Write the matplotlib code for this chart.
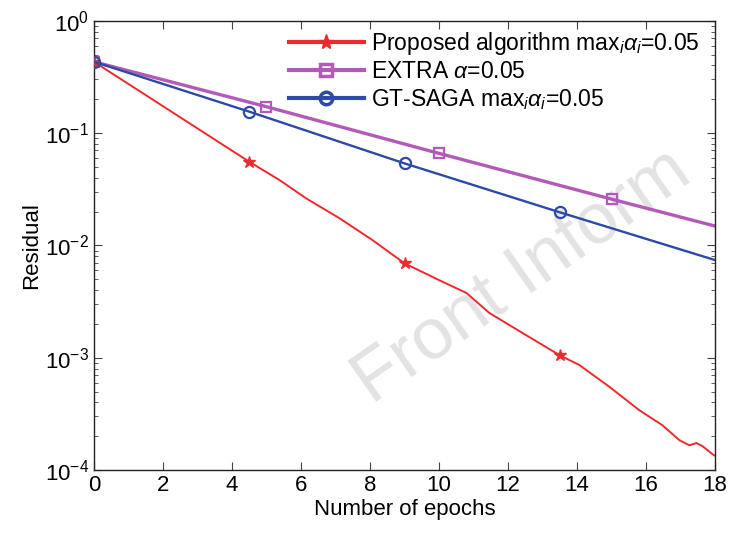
import numpy as np
import matplotlib
matplotlib.use("Agg")
import matplotlib.pyplot as plt
from matplotlib.ticker import LogLocator, NullFormatter
from matplotlib.lines import Line2D

plt.rcParams['font.family'] = ['Liberation Sans', 'DejaVu Sans']
plt.rcParams['mathtext.fontset'] = 'custom'
plt.rcParams['mathtext.rm'] = 'Liberation Sans'
plt.rcParams['mathtext.it'] = 'Liberation Sans:italic'

# ---- data ----
red_x = [0, 4.5, 5.38, 6.15, 7.12, 8.07, 9.0, 10.0, 10.8, 11.46, 12.42, 13.5,
         14.07, 14.94, 15.81, 16.48, 16.97, 17.26, 17.46, 17.64, 17.93, 18.0]
red_y = [0.431, 0.0555, 0.0381, 0.0262, 0.0174, 0.01115, 0.00692, 0.00491,
         0.00376, 0.00250, 0.00166, 0.00105, 0.00086, 0.00055, 0.00034,
         0.00025, 0.000184, 0.000166, 0.000174, 0.000163, 0.000138, 0.000134]
red_marks = [0, 4.5, 9.0, 13.5]

extra_x = [0, 5, 10, 15, 18]
extra_y = [0.431, 0.1715, 0.0659, 0.0258, 0.01486]
extra_marks = [0, 5, 10, 15]

gt_x = [0, 4.5, 9.0, 13.5, 18]
gt_y = [0.431, 0.155, 0.0537, 0.0197, 0.0074]
gt_marks = [0, 4.5, 9.0, 13.5]

labels = [r'Proposed algorithm max$_i\mathit{\alpha_i}$=0.05',
          r'EXTRA $\mathit{\alpha}$=0.05',
          r'GT-SAGA max$_i\mathit{\alpha_i}$=0.05']

red_c = '#ee2a2e'
mag_c = '#b35ab8'
blu_c = '#2c4aa6'

fig = plt.figure(figsize=(7.32, 5.48), dpi=100)
ax = fig.add_axes([0.1284, 0.1423, 0.8484, 0.8199])

def idx(xs, marks):
    return [xs.index(m) for m in marks]

ax.plot(red_x, red_y, color=red_c, lw=1.4, marker='*', ms=9,
        markevery=idx(red_x, red_marks), mfc=red_c, mec=red_c, zorder=3)
ax.plot(extra_x, extra_y, color=mag_c, lw=2.4, marker='s', ms=7,
        markevery=idx(extra_x, extra_marks), mfc='none', mec=mag_c, mew=1.6, zorder=2)
ax.plot(gt_x, gt_y, color=blu_c, lw=1.7, marker='o', ms=8,
        markevery=idx(gt_x, gt_marks), mfc='none', mec=blu_c, mew=1.6, zorder=4)

# legend proxies (thicker lines)
h = [Line2D([], [], color=red_c, lw=3, marker='*', ms=11, mfc=red_c, mec=red_c),
     Line2D([], [], color=mag_c, lw=3, marker='s', ms=9, mfc='none', mec=mag_c, mew=2.5),
     Line2D([], [], color=blu_c, lw=3, marker='o', ms=9, mfc='none', mec=blu_c, mew=2.5)]
leg = ax.legend(h, labels, loc='upper right', bbox_to_anchor=(0.99, 1.0),
                frameon=False, fontsize=16.5, handlelength=3.3, handletextpad=0.3,
                labelspacing=0.15, borderaxespad=0.0)

ax.set_yscale('log')
ax.set_xlim(0, 18)
ax.set_ylim(1e-4, 1)
ax.set_xticks(np.arange(0, 19, 2))
ax.yaxis.set_major_locator(LogLocator(base=10, numticks=10))
ax.yaxis.set_minor_locator(LogLocator(base=10, subs=np.arange(2, 10), numticks=20))
ax.yaxis.set_minor_formatter(NullFormatter())
ax.tick_params(which='both', direction='in', top=True, right=True, labelsize=16,
               color='#444444')
ax.tick_params(which='major', length=6, width=0.8)
ax.tick_params(which='minor', length=3, width=0.6)
for s in ax.spines.values():
    s.set_linewidth(1.0)
    s.set_color('#222222')

ax.set_xlabel('Number of epochs', fontsize=16, labelpad=2)
ax.set_ylabel('Residual', fontsize=16, labelpad=2)

# watermark
ax.text(372 / 732, 1 - 405 / 548, 'Front Inform', transform=fig.transFigure,
        fontsize=52, color='#e3e3e3', rotation=35, rotation_mode='anchor',
        ha='left', va='baseline', clip_on=False, zorder=0)

fig.savefig('out.png', dpi=100)
